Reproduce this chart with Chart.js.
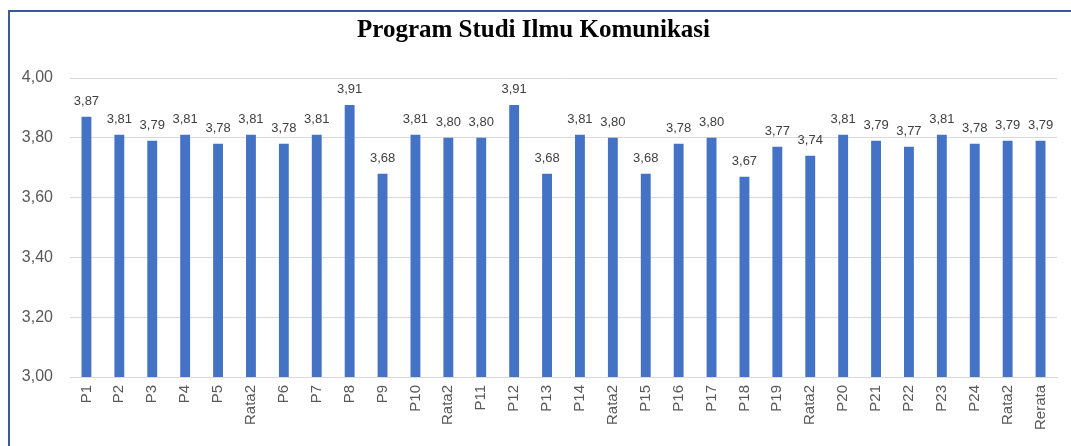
<!DOCTYPE html>
<html>
<head>
<meta charset="utf-8">
<script src="https://cdn.jsdelivr.net/npm/chart.js@4.4.1/dist/chart.umd.min.js"></script>
<style>
  body { margin: 0; background: #fff; }
  #wrap {
    position: absolute; left: 8px; top: 10px;
    width: 1063px; height: 436px;
    border-left: 2px solid #3b5a98; border-top: 2px solid #3b5a98;
  }
</style>
</head>
<body>
<div id="wrap"><canvas id="myChart"></canvas></div>
<script>
const labels = ['P1','P2','P3','P4','P5','Rata2','P6','P7','P8','P9','P10','Rata2','P11','P12','P13','P14','Rata2',
                'P15','P16','P17','P18','P19','Rata2','P20','P21','P22','P23','P24','Rata2','Rerata'];
const values = [3.87,3.81,3.79,3.81,3.78,3.81,3.78,3.81,3.91,3.68,3.81,3.80,3.80,3.91,3.68,3.81,3.80,
                3.68,3.78,3.80,3.67,3.77,3.74,3.81,3.79,3.77,3.81,3.78,3.79,3.79];
const yTicks = [3.00, 3.20, 3.40, 3.60, 3.80, 4.00];

const comma = v => v.toFixed(2).replace('.', ',');

// draw the value above each bar
const barLabels = {
    id: 'barLabels',
    afterDatasetsDraw(chart) {
        const ctx = chart.ctx;
        const meta = chart.getDatasetMeta(0);
        ctx.save();
        ctx.font = '13px "Liberation Sans", sans-serif';
        ctx.fillStyle = '#404040';
        ctx.textAlign = 'center';
        ctx.textBaseline = 'bottom';
        meta.data.forEach((bar, i) => {
            ctx.fillText(comma(values[i]), bar.x, bar.y - 9);
        });
        ctx.restore();
    }
};

const ctx = document.getElementById('myChart').getContext('2d');
const myChart = new Chart(ctx, {
    type: 'bar',
    data: {
        labels: labels,
        datasets: [{
            data: values,
            backgroundColor: '#4472c4',
            barPercentage: 0.6,
            categoryPercentage: 0.5
        }]
    },
    options: {
        responsive: true,
        maintainAspectRatio: false,
        animation: false,
        layout: { padding: { left: 0, right: 16, top: 0, bottom: 0 } },
        plugins: {
            legend: { display: false },
            tooltip: { enabled: false },
            title: {
                display: true,
                text: 'Program Studi Ilmu Komunikasi',
                color: '#000',
                font: { family: '"Liberation Serif", serif', size: 25, weight: 'bold' },
                padding: { top: 4, bottom: 32 }
            }
        },
        scales: {
            x: {
                grid: { display: false, drawTicks: false },
                border: { color: '#d9d9d9' },
                ticks: {
                    color: '#595959',
                    font: { family: '"Liberation Sans", sans-serif', size: 15 },
                    maxRotation: 90, minRotation: 90,
                    autoSkip: false,
                    padding: 8
                },
                afterFit: s => { s.height = 71; }
            },
            y: {
                min: 3.0, max: 4.0,
                afterBuildTicks: s => { s.ticks = yTicks.map(v => ({ value: v })); },
                grid: { color: '#d9d9d9', drawTicks: false },
                border: { display: false },
                ticks: {
                    color: '#595959',
                    font: { family: '"Liberation Sans", sans-serif', size: 16 },
                    padding: 17,
                    callback: v => comma(v)
                },
                afterFit: s => { s.width = 60; }
            }
        }
    },
    plugins: [barLabels]
});
</script>
</body>
</html>
